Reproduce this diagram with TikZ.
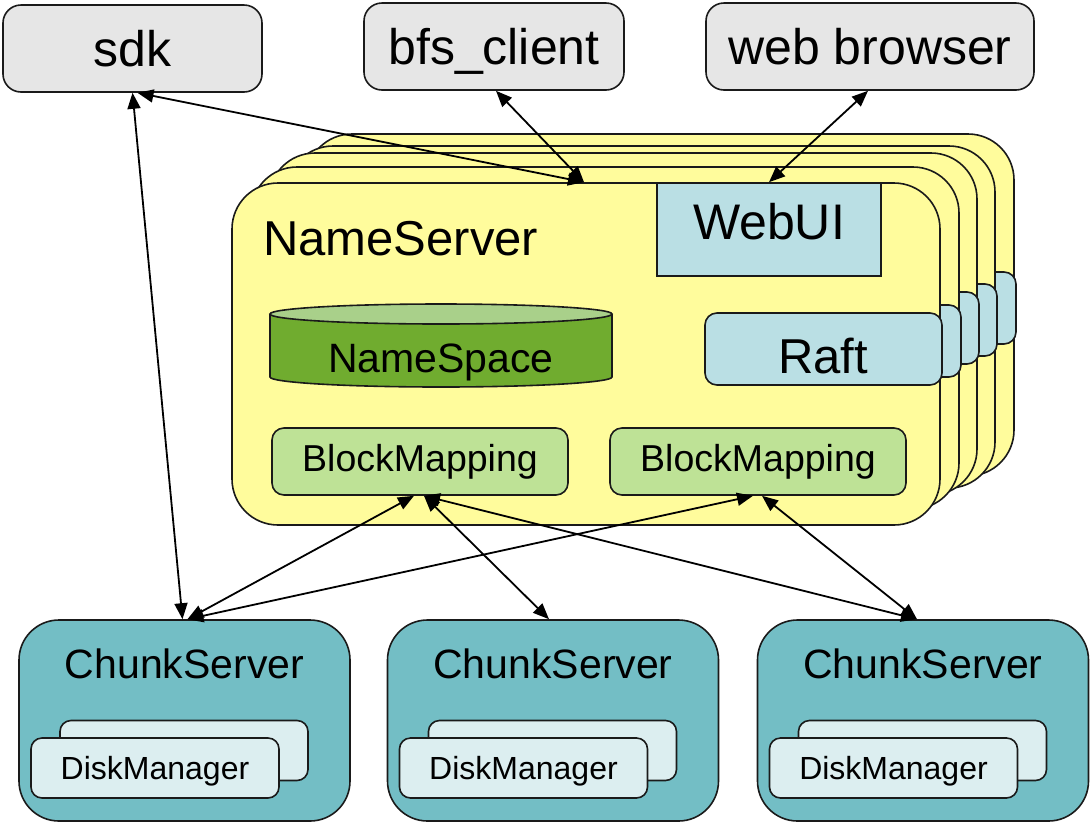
\documentclass[tikz,border=0pt]{standalone}
\usepackage{fontspec}
\setmainfont{Liberation Sans}
\usetikzlibrary{arrows.meta,calc}
\definecolor{cgray}{HTML}{E6E6E6}
\definecolor{cyellow}{HTML}{FFFC9C}
\definecolor{clblue}{HTML}{BADFE4}
\definecolor{cnsbody}{HTML}{70AC2F}
\definecolor{cnstop}{HTML}{A9D08A}
\definecolor{cbm}{HTML}{BEE296}
\definecolor{ccs}{HTML}{73BEC5}
\definecolor{cdm}{HTML}{DCEEF0}
\definecolor{cedge}{HTML}{1A1A1A}
\tikzset{bitip/.tip={Triangle[length=16pt,width=13pt]}}
\begin{document}
\begin{tikzpicture}[
  base/.style={draw=cedge, line width=1.6pt, inner sep=0pt, align=center},
  client/.style={base, fill=cgray, rounded corners=18pt, minimum height=87pt, text height=36pt, text depth=0pt, font=\fontsize{50}{60}\selectfont},
  layer/.style={base, fill=cyellow, rounded corners=46pt, minimum width=708pt, minimum height=342pt},
  raftbox/.style={base, fill=clblue, rounded corners=12pt, minimum width=237pt, minimum height=72pt},
  webbox/.style={base, fill=clblue, minimum width=224pt, minimum height=93pt},
  bmbox/.style={base, fill=cbm, rounded corners=12pt, minimum width=296pt, minimum height=67pt, font=\fontsize{37.5}{45}\selectfont},
  csbox/.style={base, fill=ccs, rounded corners=40pt, minimum width=331pt, minimum height=201pt},
  dmbox/.style={base, fill=cdm, rounded corners=11pt, minimum width=248pt, minimum height=60pt, font=\fontsize{32}{38}\selectfont, text height=23pt, text depth=0pt},
  biglabel/.style={font=\fontsize{50}{60}\selectfont, inner sep=0pt, text height=36pt, text depth=0pt},
  cslabel/.style={font=\fontsize{41}{49}\selectfont, inner sep=0pt},
  biarrow/.style={bitip-bitip, line width=1.8pt, draw=black}
]
\begin{scope}[x=1pt,y=-1pt]
\useasboundingbox (0,0) rectangle (1090,823);

% clients
\node[client, minimum width=259pt] (sdk) at (132.5,48.5) {sdk};
\node[client, minimum width=260pt] (bfs) at (494,46.5) {bfs\_client};
\node[client, minimum width=328pt] (web) at (870,46.5) {web browser};

% stacked NameServer layers (back to front)
\node[layer] (ns5) at (660,305) {};
\node[raftbox] (raft5) at (897.5,308) {};
\node[layer] (ns4) at (641,317) {};
\node[raftbox] (raft4) at (878.5,320) {};
\node[layer] (ns3) at (623,324) {};
\node[raftbox] (raft3) at (860.5,328) {};
\node[layer] (ns2) at (605,338) {};
\node[raftbox] (raft2) at (842.5,341) {};
\node[layer] (ns1) at (586,354) {};
\node[raftbox] (raft1) at (823.5,349) {};
\node[biglabel, font=\fontsize{49}{59}\selectfont, text height=35pt] (raftlabel) at (823,356) {Raft};

\node[biglabel, font=\fontsize{49}{59}\selectfont, anchor=west, text height=35pt] (nslabel) at (263,238) {NameServer};
\node[webbox] (webui) at (769,229.5) {};
\node[biglabel] (webuilabel) at (769,221) {WebUI};

% NameSpace cylinder
\path[draw=cedge, line width=1.6pt, fill=cnsbody]
  (270,314) -- (270,377) arc[start angle=180, end angle=360, x radius=171pt, y radius=10pt] -- (612,314);
\fill[cnsbody] (270.8,314) rectangle (611.2,377);
\draw[draw=cedge, line width=1.6pt, fill=cnstop] (441,314) ellipse[x radius=171pt, y radius=10pt];
\node[font=\fontsize{41}{49}\selectfont, inner sep=0pt, text height=29pt, text depth=0pt] (nsp) at (441,358) {NameSpace};

% BlockMappings
\node[bmbox] (bm1) at (420,461.5) {BlockMapping};
\node[bmbox] (bm2) at (758,461.5) {BlockMapping};

% ChunkServers
\foreach \i/\cx in {1/184.5, 2/553, 3/923} {
  \node[csbox] (cs\i) at (\cx,720.5) {};
  \node[cslabel] (cslab\i) at (\cx,664) {ChunkServer};
  \node[dmbox] (dmb\i) at (\cx-0.5,750.5) {};
  \node[dmbox] (dmf\i) at (\cx-29.5,768) {DiskManager};
}

% connectors
\draw[biarrow] ([xshift=0pt]sdk.south) -- ([xshift=-2pt]cs1.north);
\draw[biarrow] ([xshift=5pt]sdk.south) -- ([xshift=-2pt]ns1.north);
\draw[biarrow] ([xshift=2pt]bfs.south) -- ([xshift=-2pt]ns1.north);
\draw[biarrow] ([xshift=-2pt]web.south) -- (webui.north);
\draw[biarrow] ([xshift=-6pt]bm1.south) -- ([xshift=3pt]cs1.north);
\draw[biarrow] ([xshift=4pt]bm1.south) -- ([xshift=-4pt]cs2.north);
\draw[biarrow] ([xshift=4pt]bm1.south) -- ([xshift=-6pt]cs3.north);
\draw[biarrow] ([xshift=-5pt]bm2.south) -- ([xshift=3pt]cs1.north);
\draw[biarrow] ([xshift=4pt]bm2.south) -- ([xshift=-6pt]cs3.north);
\end{scope}
\end{tikzpicture}
\end{document}
